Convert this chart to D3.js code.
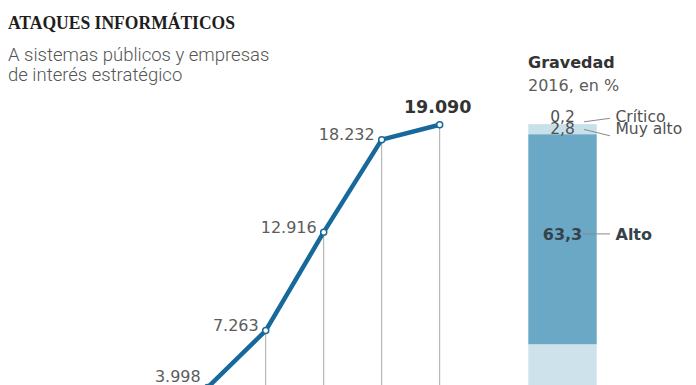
<!DOCTYPE html>
<html><head><meta charset="utf-8">
<script src="https://cdn.jsdelivr.net/npm/d3@7"></script>
<style>
html,body{margin:0;padding:0;background:#fff;overflow:hidden}
svg{display:block}
</style></head>
<body>
<script>
// ---- data ----
const years = [2012, 2013, 2014, 2015, 2016];
const attacks = [3998, 7263, 12916, 18232, 19090];
const attackLabels = ["3.998", "7.263", "12.916", "18.232", "19.090"];
const severityCats = ["Crítico", "Muy alto", "Alto", "Resto"];
const severityVals = [0.2, 2.8, 63.3, 33.7];
const severityLabels = ["0,2", "2,8", "63,3", ""];

const W = 696, H = 385;
const svg = d3.select("body").append("svg").attr("width", W).attr("height", H);

// titles
svg.append("text").attr("x", 8).attr("y", 29)
  .attr("font-family", "Liberation Serif, serif").attr("font-weight", 700)
  .attr("font-size", 19).attr("fill", "#1e1e1e")
  .attr("textLength", 227).attr("lengthAdjust", "spacingAndGlyphs")
  .text("ATAQUES INFORMÁTICOS");
const sub = ["A sistemas públicos y empresas", "de interés estratégico"];
svg.selectAll("text.sub").data(sub).join("text").attr("class", "sub")
  .attr("x", 8).attr("y", (d, i) => 61 + i * 20)
  .attr("font-family", "Roboto, sans-serif").attr("font-weight", 300)
  .attr("font-size", 18.5).attr("fill", "#555").text(d => d);

// ---- line chart ----
const x = d3.scaleLinear().domain([years[0], years[years.length - 1]]).range([207.7, 439.7]);
const y = d3.scaleLinear().domain([0, 19090]).range([457, 124.7]);
const blue = "#17699c";

const pts = years.map((yr, i) => ({ yr, v: attacks[i], lab: attackLabels[i], i }));

svg.selectAll("line.drop").data(pts).join("line").attr("class", "drop")
  .attr("x1", d => x(d.yr)).attr("x2", d => x(d.yr))
  .attr("y1", d => y(d.v)).attr("y2", y(0))
  .attr("stroke", "#a8a8a8").attr("stroke-width", 1);

svg.append("path").datum(pts)
  .attr("d", d3.line().x(d => x(d.yr)).y(d => y(d.v)))
  .attr("fill", "none").attr("stroke", blue).attr("stroke-width", 4.5)
  .attr("stroke-linejoin", "round");

svg.selectAll("circle.pt").data(pts).join("circle").attr("class", "pt")
  .attr("cx", d => x(d.yr)).attr("cy", d => y(d.v)).attr("r", 3)
  .attr("fill", "#fff").attr("stroke", blue).attr("stroke-width", 1.5);

const last = pts.length - 1;
svg.selectAll("text.val").data(pts).join("text").attr("class", "val")
  .attr("x", d => d.i === last ? x(d.yr) - 2 : x(d.yr) - 7)
  .attr("y", d => d.i === last ? y(d.v) - 12 : Math.min(y(d.v) + 0.5, H - 3.5))
  .attr("text-anchor", d => d.i === last ? "middle" : "end")
  .attr("font-family", "DejaVu Sans, sans-serif")
  .attr("font-weight", d => d.i === last ? 700 : 400)
  .attr("font-size", d => d.i === last ? 17.5 : 16)
  .attr("fill", d => d.i === last ? "#333" : "#5c5c5c")
  .text(d => d.lab);

// ---- stacked bar ----
svg.append("text").attr("x", 528).attr("y", 68)
  .attr("font-family", "DejaVu Sans, sans-serif").attr("font-weight", 700)
  .attr("font-size", 16).attr("fill", "#333").text("Gravedad");
svg.append("text").attr("x", 528).attr("y", 91)
  .attr("font-family", "DejaVu Sans, sans-serif").attr("font-weight", 400)
  .attr("font-size", 16).attr("fill", "#5c5c5c").text("2016, en %");

const py = d3.scaleLinear().domain([0, 100]).range([124.3, 456.5]);
const bx = d3.scaleBand().domain(["2016"]).range([528.3, 596.7]).padding(0);
let acc = 0;
const segs = severityCats.map((c, i) => { const s = { c, v: severityVals[i], lab: severityLabels[i], i, y0: acc }; acc += severityVals[i]; s.y1 = acc; return s; });
const segColor = ["#bcd8e4", "#c7e0ea", "#6aa8c5", "#cde2eb"];

svg.selectAll("rect.seg").data(segs).join("rect").attr("class", "seg")
  .attr("x", bx("2016")).attr("width", bx.bandwidth())
  .attr("y", d => py(d.y0)).attr("height", d => py(d.y1) - py(d.y0))
  .attr("fill", (d, i) => segColor[i]);

const cx = bx("2016") + bx.bandwidth() / 2;
// label layout for the named segments
const layout = [
  { ny: py(0) - 2.5, cy: py(0) - 2.5, ly: py(0) - 6 },
  { ny: py(3) + 0, cy: py(3) + 0, ly: py(3) + 1.5 },
  { ny: (py(3) + py(66.3)) / 2 + 0.5, cy: (py(3) + py(66.3)) / 2 - 5.5, ly: (py(3) + py(66.3)) / 2 - 5.5 }
];
const named = segs.slice(0, 3);
svg.selectAll("text.pct").data(named).join("text").attr("class", "pct")
  .attr("x", cx).attr("y", (d, i) => layout[i].ny).attr("text-anchor", "middle")
  .attr("font-family", "DejaVu Sans, sans-serif")
  .attr("font-weight", d => d.i === 2 ? 700 : 400)
  .attr("font-size", d => d.i === 2 ? 16 : 15.5).attr("fill", d => d.i === 2 ? "#36424b" : "#505050")
  .text(d => d.lab);
svg.selectAll("line.lead").data(named).join("line").attr("class", "lead")
  .attr("x1", (d, i) => i === 2 ? 583 : 584)
  .attr("y1", (d, i) => i === 0 ? layout[0].cy : i === 1 ? py(3) - 4.8 : layout[2].cy)
  .attr("x2", 610)
  .attr("y2", (d, i) => layout[i].ly)
  .attr("stroke", "#8a8a8a").attr("stroke-width", 1);
svg.selectAll("text.cat").data(named).join("text").attr("class", "cat")
  .attr("x", 615.5).attr("y", (d, i) => layout[i].ny)
  .attr("font-family", "DejaVu Sans, sans-serif")
  .attr("font-weight", d => d.i === 2 ? 700 : 400)
  .attr("font-size", d => d.i === 2 ? 16 : 15.5).attr("fill", d => d.i === 2 ? "#36424b" : "#505050")
  .text(d => d.c);
</script>
</body></html>
